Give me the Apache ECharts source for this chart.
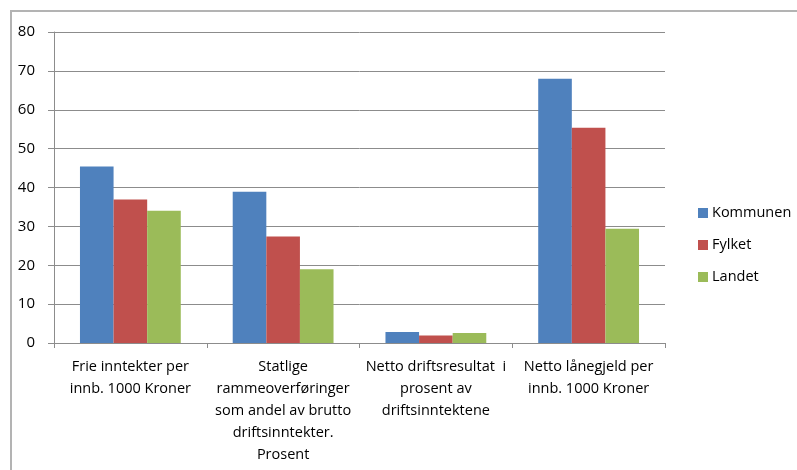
<!DOCTYPE html>
<html>
<head>
<meta charset="utf-8">
<script src="https://cdn.jsdelivr.net/npm/echarts@6/dist/echarts.min.js"></script>
<style>
html,body{margin:0;padding:0;background:#fff;}
#chart{width:797px;height:470px;}
</style>
</head>
<body>
<div id="chart"></div>
<script>
const categories = [
  "Frie inntekter per\ninnb. 1000 Kroner",
  "Statlige\nrammeoverføringer\nsom andel av brutto\ndriftsinntekter.\nProsent",
  "Netto driftsresultat  i\nprosent av\ndriftsinntektene",
  "Netto lånegjeld per\ninnb. 1000 Kroner"
];
const seriesNames = ["Kommunen", "Fylket", "Landet"];
const kommunen = [45.4, 38.9, 2.8, 68.0];
const fylket = [36.9, 27.4, 1.9, 55.4];
const landet = [34.0, 19.0, 2.6, 29.4];
const yTicks = [0, 10, 20, 30, 40, 50, 60, 70, 80];

const colors = ["#4F81BD", "#C0504D", "#9BBB59"];
const font = "'Open Sans', 'Noto Sans', sans-serif";
const chart = echarts.init(document.getElementById('chart'));
const values = [kommunen, fylket, landet];

chart.setOption({
  animation: false,
  backgroundColor: '#ffffff',
  graphic: [{
    type: 'rect',
    shape: {x: 11, y: 11, width: 800, height: 480},
    style: {fill: 'none', stroke: '#b3b3b3', lineWidth: 2},
    silent: true
  }],
  grid: {left: 54, right: 132, top: 32, bottom: 127, containLabel: false},
  legend: {
    orient: 'vertical',
    left: 693,
    top: 198,
    itemWidth: 10,
    itemHeight: 10,
    itemGap: 12,
    icon: 'rect',
    textStyle: {fontFamily: font, fontSize: 14.5, color: '#000', lineHeight: 20, padding: [0, 0, 0, -1]},
    data: seriesNames
  },
  xAxis: {
    type: 'category',
    data: categories,
    axisLine: {lineStyle: {color: '#8c8c8c', width: 1}},
    axisTick: {show: true, length: 5, lineStyle: {color: '#8c8c8c'}},
    axisLabel: {
      interval: 0,
      margin: 13,
      fontFamily: font,
      fontSize: 14.5,
      lineHeight: 22,
      color: '#000',
      align: 'center'
    }
  },
  yAxis: {
    type: 'value',
    min: yTicks[0],
    max: yTicks[yTicks.length - 1],
    interval: 10,
    axisLine: {show: true, lineStyle: {color: '#8c8c8c', width: 1}},
    axisTick: {show: true, length: 6, lineStyle: {color: '#8c8c8c'}},
    axisLabel: {margin: 19, fontFamily: font, fontSize: 15, color: '#000'},
    splitLine: {lineStyle: {color: '#8c8c8c', width: 1}}
  },
  series: seriesNames.map((name, i) => ({
    name: name,
    type: 'bar',
    data: values[i],
    barGap: '0%',
    barCategoryGap: '34%',
    itemStyle: {color: colors[i]}
  }))
});
</script>
</body>
</html>
